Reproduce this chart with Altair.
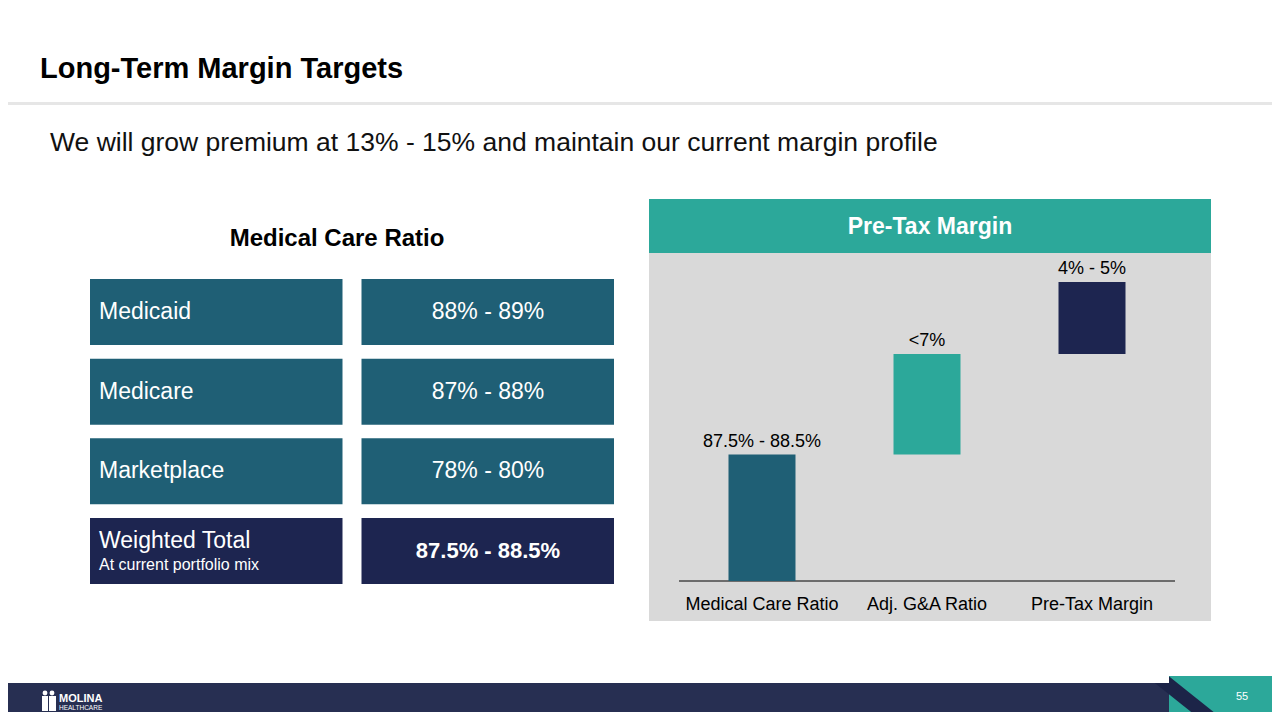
import altair as alt
import pandas as pd

FONT = "Liberation Sans, Arial, Helvetica, sans-serif"
TEAL = "#1f5f75"
GREEN = "#2ca89a"
NAVY = "#1d2550"
FOOT = "#272f52"
PANEL = "#d9d9d9"
W, H = 1264, 704

# ---- data: left table ----
segments = ["Medicaid", "Medicare", "Marketplace", "Weighted Total"]
mcr_ranges = ["88% - 89%", "87% - 88%", "78% - 80%", "87.5%  - 88.5%"]
sublabels = ["", "", "", "At current portfolio mix"]
row_kind = ["segment", "segment", "segment", "total"]

# ---- data: waterfall ----
steps = ["Medical Care Ratio", "Adj. G&A Ratio", "Pre-Tax Margin"]
step_values = [88, 7, 5]
step_labels = ["87.5% - 88.5%", "<7%", "4% - 5%"]

rows_df = pd.DataFrame({"row": segments, "range": mcr_ranges, "sub": sublabels, "kind": row_kind})
cells_df = pd.DataFrame([{"row": r, "col": c, "kind": k}
                         for r, k in zip(segments, row_kind) for c in ["label", "value"]])

lows, highs, cum = [], [], 0
for v in step_values:
    lows.append(cum)
    cum += v
    highs.append(cum)
wf_df = pd.DataFrame({"step": steps, "low": lows, "high": highs, "label": step_labels})

ONE = alt.Data(values=[{}])


def txt(s, x, y, size, weight="normal", color="#000000", align="left", baseline="alphabetic"):
    return alt.Chart(ONE).mark_text(text=s, font=FONT, fontSize=size, fontWeight=weight,
                                    color=color, align=align, baseline=baseline).encode(
        x=alt.value(x), y=alt.value(y))


def box(x, x2, y, y2, color):
    return alt.Chart(ONE).mark_rect(color=color).encode(
        x=alt.value(x), x2=alt.value(x2), y=alt.value(y), y2=alt.value(y2))


# ---- slide decorations ----
decor = [
    box(0, W, 94, 97, "#e6e6e6"),
    txt("Long-Term Margin Targets", 32, 70, 29, "bold"),
    txt("We will grow premium at 13% - 15% and maintain our current margin profile", 42, 143, 26.5,
        color="#111111"),
    txt("Medical Care Ratio", 329, 238, 24, "bold", align="center"),
    box(641, 1203, 191, 245, GREEN),
    box(641, 1203, 245, 613, PANEL),
    txt("Pre-Tax Margin", 922, 219, 23, "bold", color="white", align="center", baseline="middle"),
    alt.Chart(ONE).mark_rule(color="black", strokeWidth=1).encode(
        x=alt.value(671), x2=alt.value(1167), y=alt.value(573)),
]

footer = [
    box(0, W, 675, H, FOOT),
    box(1161, W, 668, H, GREEN),
    alt.Chart(ONE).mark_rule(color="#1c2448", strokeWidth=14, strokeCap="butt").encode(
        x=alt.value(1133), y=alt.value(655), x2=alt.value(1227), y2=alt.value(730)),
    box(1090, 1161, 630, 675, "white"),
    txt("55", 1234, 689, 11, color="white", align="center", baseline="middle"),
    # logo
    alt.Chart(ONE).mark_circle(color="white", size=24, opacity=1).encode(x=alt.value(37), y=alt.value(685)),
    alt.Chart(ONE).mark_circle(color="white", size=24, opacity=1).encode(x=alt.value(44), y=alt.value(685)),
    box(34, 40, 688, 703, "white"),
    box(41, 48, 688, 703, "white"),
    txt("MOLINA", 51, 694, 11, "bold", color="white"),
    txt("HEALTHCARE", 51, 702, 6.5, color="white"),
]

# ---- table ----
xs = alt.Scale(domain=["label", "value"], range=[82, 606], paddingInner=0.07, paddingOuter=0)
ys = alt.Scale(domain=segments, range=[271, 576], paddingInner=0.1715, paddingOuter=0)

t_rect = alt.Chart(cells_df).mark_rect().encode(
    x=alt.X("col:N", scale=xs, axis=None),
    y=alt.Y("row:N", scale=ys, axis=None),
    color=alt.Color("kind:N", scale=alt.Scale(domain=["segment", "total"], range=[TEAL, NAVY]), legend=None),
)
seg_base = alt.Chart(rows_df).transform_filter(alt.datum.kind == "segment")
tot_base = alt.Chart(rows_df).transform_filter(alt.datum.kind == "total")
Yrow = alt.Y("row:N", scale=ys, axis=None)

t_lab = seg_base.mark_text(font=FONT, fontSize=23, color="white", align="left", baseline="middle").encode(
    x=alt.value(91), y=Yrow, text="row:N")
t_val = seg_base.mark_text(font=FONT, fontSize=23, color="white", align="center", baseline="middle").encode(
    x=alt.value(480), y=Yrow, text="range:N")
t_tlab = tot_base.mark_text(font=FONT, fontSize=23, color="white", align="left", baseline="middle", dy=-10).encode(
    x=alt.value(91), y=Yrow, text="row:N")
t_tsub = tot_base.mark_text(font=FONT, fontSize=16, color="white", align="left", baseline="middle", dy=14).encode(
    x=alt.value(91), y=Yrow, text="sub:N")
t_tval = tot_base.mark_text(font=FONT, fontSize=22, fontWeight="bold", color="white", align="center",
                            baseline="middle").encode(x=alt.value(480), y=Yrow, text="range:N")

table = alt.layer(t_rect, t_lab, t_val, t_tlab, t_tsub, t_tval)

# ---- waterfall ----
wx = alt.Scale(domain=steps, range=[671, 1167], paddingInner=0.594, paddingOuter=0.3)
wy = alt.Scale(domain=[79.2, 100], range=[573, 274], zero=False, nice=False, clamp=True)

w_bar = alt.Chart(wf_df).mark_bar().encode(
    x=alt.X("step:N", scale=wx, axis=None),
    y=alt.Y("high:Q", scale=wy, axis=None),
    y2="low:Q",
    color=alt.Color("step:N", scale=alt.Scale(domain=steps, range=[TEAL, GREEN, NAVY]), legend=None),
)
w_lab = alt.Chart(wf_df).mark_text(font=FONT, fontSize=18, color="black", baseline="bottom", dy=-4).encode(
    x=alt.X("step:N", scale=wx, axis=None),
    y=alt.Y("high:Q", scale=wy, axis=None),
    text="label:N",
)
w_cat = alt.Chart(wf_df).mark_text(font=FONT, fontSize=18, color="black", baseline="middle").encode(
    x=alt.X("step:N", scale=wx, axis=None),
    y=alt.value(597),
    text="step:N",
)
waterfall = alt.layer(w_bar, w_lab, w_cat)

chart = alt.layer(*decor, table, waterfall, *footer).resolve_scale(
    x="independent", y="independent", color="independent"
).properties(
    width=W, height=H, padding=0, autosize="none", background="white"
).configure_view(stroke=None)

chart.save("out.html", embed_options={"renderer": "svg", "actions": False})
